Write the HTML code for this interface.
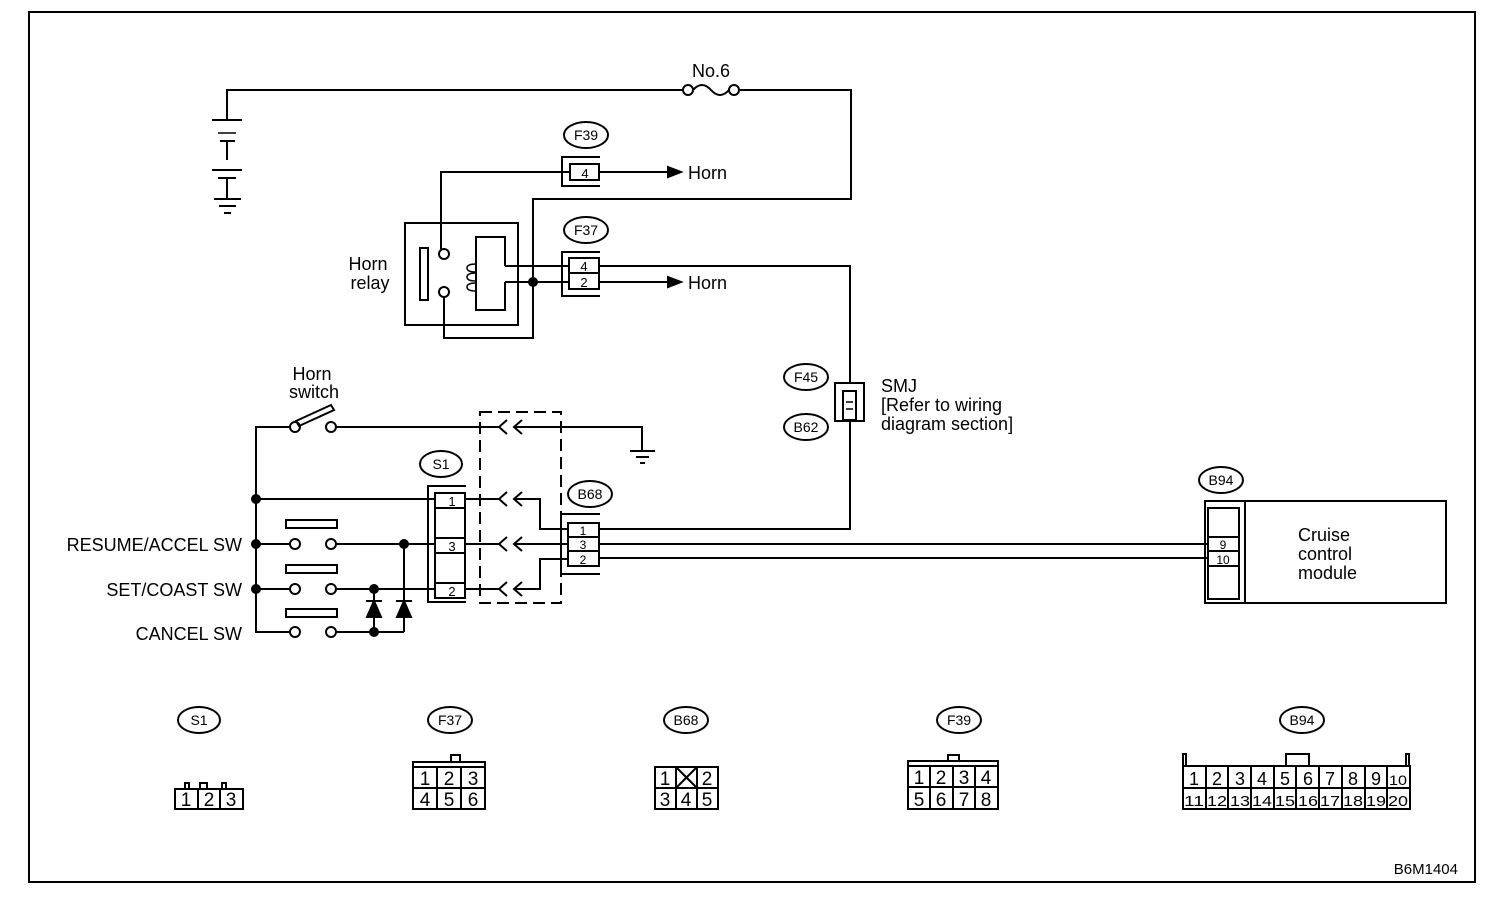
<!DOCTYPE html>
<html><head><meta charset="utf-8"><style>
html,body{margin:0;padding:0;background:#fff}
svg{display:block}
text{font-family:"Liberation Sans",sans-serif;fill:#000}
.l{font-size:18px}
.o{font-size:14px}
.p{font-size:13px}
.b{font-size:19px}
</style></head><body>
<svg width="1504" height="900" viewBox="0 0 1504 900" xmlns="http://www.w3.org/2000/svg" fill="none" stroke="#000" stroke-width="2">
<rect x="29" y="12" width="1446" height="870"/>
<text x="1458" y="874" class="l" text-anchor="end" stroke="none" style="font-size:15px">B6M1404</text>

<!-- top supply -->
<polyline points="227,120 227,90 683,90"/>
<circle cx="688" cy="90" r="5"/><circle cx="734" cy="90" r="5"/>
<path d="M693,90 Q702,80 711,90 Q720,100 729,90"/>
<polyline points="739,90 851,90 851,199 533,199 533,338 444,338 444,297"/>
<text x="711" y="77" class="l" text-anchor="middle" stroke="none">No.6</text>
<!-- battery -->
<line x1="212" y1="120" x2="242" y2="120"/><line x1="218" y1="133" x2="236" y2="133" stroke-width="1.5"/>
<line x1="220" y1="141" x2="235" y2="141"/><line x1="227" y1="141" x2="227" y2="160"/>
<line x1="212" y1="170" x2="242" y2="170"/><line x1="218" y1="178" x2="236" y2="178"/>
<line x1="227" y1="178" x2="227" y2="199"/>
<line x1="214" y1="199" x2="241" y2="199"/><line x1="219" y1="206" x2="236" y2="206"/><line x1="224" y1="213" x2="231" y2="213"/>

<!-- F39 -->
<ellipse cx="586" cy="135" rx="22" ry="13"/>
<text x="586" y="140" class="o" text-anchor="middle" stroke="none">F39</text>
<polyline points="600,157 562,157 562,186 600,186"/>
<rect x="570" y="164" width="29" height="16"/>
<text x="585" y="178" class="p" text-anchor="middle" stroke="none">4</text>
<polyline points="441,249 441,172 570,172"/>
<line x1="599" y1="172" x2="670" y2="172"/>
<polygon points="668,167 681,172 668,177" fill="#000"/>
<text x="688" y="179" class="l" stroke="none">Horn</text>

<!-- Relay -->
<rect x="405" y="223" width="113" height="102"/>
<rect x="420" y="248" width="8" height="52"/>
<circle cx="444" cy="254" r="5"/><circle cx="444" cy="292" r="5"/>
<polyline points="505,266 505,237 476,237 476,310 505,310 505,282"/>
<path d="M476,264 q-9,0 -9,4 q0,4 9,4 M476,273 q-9,0 -9,4 q0,4 9,4 M476,283 q-9,0 -9,4 q0,4 9,4" stroke-width="1.5"/>
<line x1="505" y1="266" x2="569" y2="266"/>
<line x1="505" y1="282" x2="569" y2="282"/>
<circle cx="533" cy="282" r="4" fill="#000"/>
<text x="368" y="270" class="l" text-anchor="middle" stroke="none">Horn</text>
<text x="370" y="289" class="l" text-anchor="middle" stroke="none">relay</text>

<!-- F37 -->
<ellipse cx="586" cy="230" rx="22" ry="13"/>
<text x="586" y="235" class="o" text-anchor="middle" stroke="none">F37</text>
<polyline points="600,252 562,252 562,296 600,296"/>
<rect x="569" y="258" width="30" height="15"/><rect x="569" y="273" width="30" height="16"/>
<text x="584" y="271" class="p" text-anchor="middle" stroke="none">4</text>
<text x="584" y="287" class="p" text-anchor="middle" stroke="none">2</text>
<polyline points="599,266 850,266 850,383"/>
<line x1="599" y1="282" x2="670" y2="282"/>
<polygon points="668,277 681,282 668,287" fill="#000"/>
<text x="688" y="289" class="l" stroke="none">Horn</text>

<!-- SMJ -->
<rect x="835" y="383" width="29" height="38"/>
<rect x="843" y="391" width="13" height="29"/>
<line x1="846" y1="402" x2="853" y2="402" stroke-width="1.5"/><line x1="846" y1="409" x2="853" y2="409" stroke-width="1.5"/>
<ellipse cx="806" cy="377" rx="22" ry="13"/>
<text x="806" y="382" class="o" text-anchor="middle" stroke="none">F45</text>
<ellipse cx="806" cy="427" rx="22" ry="13"/>
<text x="806" y="432" class="o" text-anchor="middle" stroke="none">B62</text>
<polyline points="850,421 850,529 599,529"/>
<text x="881" y="392" class="l" stroke="none">SMJ</text>
<text x="881" y="411" class="l" stroke="none">[Refer to wiring</text>
<text x="881" y="430" class="l" stroke="none">diagram section]</text>

<!-- Horn switch -->
<text x="312" y="380" class="l" text-anchor="middle" stroke="none">Horn</text>
<text x="314" y="398" class="l" text-anchor="middle" stroke="none">switch</text>
<polyline points="289,427 256,427 256,632 290,632"/>
<circle cx="295" cy="427" r="5"/><circle cx="331" cy="427" r="5"/>
<polygon points="296,421 331,405 334,410 299,426"/>
<line x1="336" y1="427" x2="499" y2="427"/>
<polyline points="514,427 642,427 642,450"/>
<line x1="630" y1="451" x2="655" y2="451"/><line x1="636" y1="457" x2="649" y2="457"/><line x1="640" y1="463" x2="645" y2="463"/>

<circle cx="256" cy="499" r="4" fill="#000"/>
<circle cx="256" cy="544" r="4" fill="#000"/>
<circle cx="256" cy="589" r="4" fill="#000"/>
<line x1="256" y1="499" x2="435" y2="499"/>
<!-- switches -->
<g>
<rect x="286" y="520" width="51" height="8"/>
<line x1="256" y1="544" x2="290" y2="544"/><circle cx="295" cy="544" r="5"/><circle cx="331" cy="544" r="5"/>
<line x1="336" y1="544" x2="435" y2="544"/>
<rect x="286" y="565" width="51" height="8"/>
<line x1="256" y1="589" x2="290" y2="589"/><circle cx="295" cy="589" r="5"/><circle cx="331" cy="589" r="5"/>
<line x1="336" y1="589" x2="435" y2="589"/>
<rect x="286" y="609" width="51" height="8"/>
<circle cx="295" cy="632" r="5"/><circle cx="331" cy="632" r="5"/>
<line x1="336" y1="632" x2="404" y2="632"/>
</g>
<circle cx="404" cy="544" r="4" fill="#000"/>
<circle cx="374" cy="589" r="4" fill="#000"/>
<circle cx="374" cy="632" r="4" fill="#000"/>
<line x1="404" y1="544" x2="404" y2="632"/>
<line x1="374" y1="589" x2="374" y2="632"/>
<polygon points="374,601 367,617 381,617" fill="#000"/><line x1="366" y1="601" x2="382" y2="601"/>
<polygon points="404,601 397,617 411,617" fill="#000"/><line x1="396" y1="601" x2="412" y2="601"/>
<text x="242" y="551" class="l" text-anchor="end" stroke="none">RESUME/ACCEL SW</text>
<text x="242" y="596" class="l" text-anchor="end" stroke="none">SET/COAST SW</text>
<text x="242" y="640" class="l" text-anchor="end" stroke="none">CANCEL SW</text>

<!-- S1 -->
<ellipse cx="441" cy="464" rx="21" ry="13"/>
<text x="441" y="469" class="o" text-anchor="middle" stroke="none">S1</text>
<polyline points="466,486 428,486 428,602 466,602"/>
<rect x="435" y="493" width="30" height="105"/>
<line x1="435" y1="508" x2="465" y2="508"/><line x1="435" y1="538" x2="465" y2="538"/><line x1="435" y1="553" x2="465" y2="553"/><line x1="435" y1="583" x2="465" y2="583"/>
<text x="452" y="506" class="p" text-anchor="middle" stroke="none">1</text>
<text x="452" y="551" class="p" text-anchor="middle" stroke="none">3</text>
<text x="452" y="596" class="p" text-anchor="middle" stroke="none">2</text>
<line x1="465" y1="499" x2="499" y2="499"/>
<line x1="465" y1="544" x2="499" y2="544"/>
<line x1="465" y1="589" x2="499" y2="589"/>
<!-- chevrons -->
<g stroke-width="2">
<polyline points="507,420 499,427 507,434"/><polyline points="522,420 514,427 522,434"/>
<polyline points="507,492 499,499 507,506"/><polyline points="522,492 514,499 522,506"/>
<polyline points="507,537 499,544 507,551"/><polyline points="522,537 514,544 522,551"/>
<polyline points="507,582 499,589 507,596"/><polyline points="522,582 514,589 522,596"/>
</g>
<polyline points="514,499 540,499 540,529 568,529"/>
<line x1="514" y1="544" x2="568" y2="544"/>
<polyline points="514,589 540,589 540,559 568,559"/>
<!-- dashed box -->
<rect x="480" y="412" width="81" height="191" stroke-dasharray="12,6"/>

<!-- B68 -->
<ellipse cx="590" cy="494" rx="22" ry="13"/>
<text x="590" y="499" class="o" text-anchor="middle" stroke="none">B68</text>
<polyline points="600,514 561,514 561,574 600,574"/>
<rect x="568" y="523" width="31" height="43"/>
<line x1="568" y1="537" x2="599" y2="537"/><line x1="568" y1="551" x2="599" y2="551"/>
<text x="583" y="535" class="p" text-anchor="middle" stroke="none" style="font-size:12px">1</text>
<text x="583" y="549" class="p" text-anchor="middle" stroke="none" style="font-size:12px">3</text>
<text x="583" y="564" class="p" text-anchor="middle" stroke="none" style="font-size:12px">2</text>
<line x1="599" y1="544" x2="1208" y2="544"/>
<line x1="599" y1="558" x2="1208" y2="558"/>

<!-- B94 -->
<ellipse cx="1221" cy="480" rx="22" ry="13"/>
<text x="1221" y="485" class="o" text-anchor="middle" stroke="none">B94</text>
<polyline points="1245,501 1205,501 1205,603 1245,603"/>
<rect x="1208" y="508" width="31" height="91"/>
<line x1="1208" y1="537" x2="1239" y2="537"/><line x1="1208" y1="551" x2="1239" y2="551"/><line x1="1208" y1="566" x2="1239" y2="566"/>
<text x="1223" y="549" class="p" text-anchor="middle" stroke="none" style="font-size:12px">9</text>
<text x="1223" y="564" class="p" text-anchor="middle" stroke="none" style="font-size:12px">10</text>
<rect x="1245" y="501" width="201" height="102"/>
<text x="1298" y="541" class="l" stroke="none">Cruise</text>
<text x="1298" y="560" class="l" stroke="none">control</text>
<text x="1298" y="579" class="l" stroke="none">module</text>

<!-- bottom connectors -->
<ellipse cx="199" cy="720" rx="21" ry="13"/><text x="199" y="725" class="o" text-anchor="middle" stroke="none">S1</text>
<rect x="175" y="789" width="68" height="20"/>
<line x1="198" y1="789" x2="198" y2="809"/><line x1="220" y1="789" x2="220" y2="809"/>
<rect x="185" y="783" width="4" height="6"/><rect x="200" y="783" width="7" height="6"/><rect x="222" y="783" width="4" height="6"/>
<text x="186" y="806" class="b" text-anchor="middle" stroke="none">1</text><text x="209" y="806" class="b" text-anchor="middle" stroke="none">2</text><text x="231" y="806" class="b" text-anchor="middle" stroke="none">3</text>

<ellipse cx="450" cy="720" rx="22" ry="13"/><text x="450" y="725" class="o" text-anchor="middle" stroke="none">F37</text>
<rect x="451" y="755" width="9" height="7"/>
<rect x="413" y="762" width="72" height="47"/>
<line x1="413" y1="767" x2="485" y2="767"/><line x1="413" y1="788" x2="485" y2="788"/>
<line x1="437" y1="767" x2="437" y2="809"/><line x1="461" y1="767" x2="461" y2="809"/>
<text x="425" y="785" class="b" text-anchor="middle" stroke="none">1</text><text x="449" y="785" class="b" text-anchor="middle" stroke="none">2</text><text x="473" y="785" class="b" text-anchor="middle" stroke="none">3</text>
<text x="425" y="806" class="b" text-anchor="middle" stroke="none">4</text><text x="449" y="806" class="b" text-anchor="middle" stroke="none">5</text><text x="473" y="806" class="b" text-anchor="middle" stroke="none">6</text>

<ellipse cx="686" cy="720" rx="22" ry="13"/><text x="686" y="725" class="o" text-anchor="middle" stroke="none">B68</text>
<rect x="655" y="767" width="63" height="42"/>
<line x1="655" y1="788" x2="718" y2="788"/><line x1="676" y1="767" x2="676" y2="809"/><line x1="697" y1="767" x2="697" y2="809"/>
<line x1="676" y1="767" x2="697" y2="788"/><line x1="697" y1="767" x2="676" y2="788"/>
<text x="665" y="785" class="b" text-anchor="middle" stroke="none">1</text><text x="707" y="785" class="b" text-anchor="middle" stroke="none">2</text>
<text x="665" y="806" class="b" text-anchor="middle" stroke="none">3</text><text x="686" y="806" class="b" text-anchor="middle" stroke="none">4</text><text x="707" y="806" class="b" text-anchor="middle" stroke="none">5</text>

<ellipse cx="959" cy="720" rx="22" ry="13"/><text x="959" y="725" class="o" text-anchor="middle" stroke="none">F39</text>
<rect x="948" y="755" width="11" height="6"/>
<rect x="908" y="761" width="90" height="48"/>
<line x1="908" y1="766" x2="998" y2="766"/><line x1="908" y1="787" x2="998" y2="787"/>
<line x1="930" y1="766" x2="930" y2="809"/><line x1="953" y1="766" x2="953" y2="809"/><line x1="975" y1="766" x2="975" y2="809"/>
<text x="919" y="784" class="b" text-anchor="middle" stroke="none">1</text><text x="941" y="784" class="b" text-anchor="middle" stroke="none">2</text><text x="964" y="784" class="b" text-anchor="middle" stroke="none">3</text><text x="986" y="784" class="b" text-anchor="middle" stroke="none">4</text>
<text x="919" y="806" class="b" text-anchor="middle" stroke="none">5</text><text x="941" y="806" class="b" text-anchor="middle" stroke="none">6</text><text x="964" y="806" class="b" text-anchor="middle" stroke="none">7</text><text x="986" y="806" class="b" text-anchor="middle" stroke="none">8</text>

<ellipse cx="1302" cy="720" rx="22" ry="13"/><text x="1302" y="725" class="o" text-anchor="middle" stroke="none">B94</text>
<rect x="1286" y="754" width="23" height="12"/>
<rect x="1183" y="754" width="3" height="12"/><rect x="1406" y="754" width="3" height="12"/>
<rect x="1183" y="766" width="227" height="43"/>
<line x1="1183" y1="788" x2="1410" y2="788"/>
<g>
<line x1="1206" y1="766" x2="1206" y2="809"/><line x1="1228" y1="766" x2="1228" y2="809"/><line x1="1251" y1="766" x2="1251" y2="809"/><line x1="1274" y1="766" x2="1274" y2="809"/><line x1="1296" y1="766" x2="1296" y2="809"/><line x1="1319" y1="766" x2="1319" y2="809"/><line x1="1342" y1="766" x2="1342" y2="809"/><line x1="1365" y1="766" x2="1365" y2="809"/><line x1="1387" y1="766" x2="1387" y2="809"/>
</g>
<g class="b" text-anchor="middle" stroke="none" style="font-size:18px">
<text x="1194" y="785">1</text><text x="1217" y="785">2</text><text x="1240" y="785">3</text><text x="1262" y="785">4</text><text x="1285" y="785">5</text><text x="1308" y="785">6</text><text x="1330" y="785">7</text><text x="1353" y="785">8</text><text x="1376" y="785">9</text><text x="1398" y="785" style="font-size:14px" textLength="18" lengthAdjust="spacingAndGlyphs">10</text>
</g>
<g text-anchor="middle" stroke="none" style="font-size:15px">
<text x="1194" y="806" textLength="20" lengthAdjust="spacingAndGlyphs">11</text><text x="1217" y="806" textLength="20" lengthAdjust="spacingAndGlyphs">12</text><text x="1240" y="806" textLength="20" lengthAdjust="spacingAndGlyphs">13</text><text x="1262" y="806" textLength="20" lengthAdjust="spacingAndGlyphs">14</text><text x="1285" y="806" textLength="20" lengthAdjust="spacingAndGlyphs">15</text><text x="1308" y="806" textLength="20" lengthAdjust="spacingAndGlyphs">16</text><text x="1330" y="806" textLength="20" lengthAdjust="spacingAndGlyphs">17</text><text x="1353" y="806" textLength="20" lengthAdjust="spacingAndGlyphs">18</text><text x="1376" y="806" textLength="20" lengthAdjust="spacingAndGlyphs">19</text><text x="1398" y="806" textLength="20" lengthAdjust="spacingAndGlyphs">20</text>
</g>
</svg>
</body></html>
